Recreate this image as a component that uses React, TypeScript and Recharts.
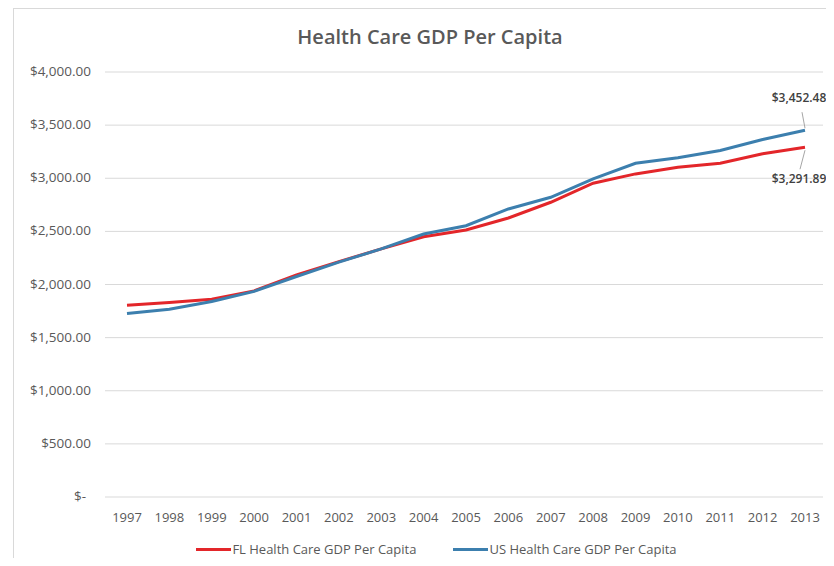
import React from "react";
import {
  LineChart,
  Line,
  XAxis,
  YAxis,
  CartesianGrid,
  Legend,
  LabelList,
} from "recharts";

const years = [
  "1997", "1998", "1999", "2000", "2001", "2002", "2003", "2004", "2005",
  "2006", "2007", "2008", "2009", "2010", "2011", "2012", "2013",
];

const flValues = [
  1805, 1830, 1862, 1940, 2090, 2215, 2335, 2450, 2513, 2626, 2774, 2953,
  3041, 3104, 3141, 3230, 3291.89,
];

const usValues = [
  1726, 1767, 1840, 1935, 2075, 2210, 2335, 2475, 2553, 2711, 2821, 2994,
  3141, 3192, 3261, 3365, 3452.48,
];

const yTicks = [0, 500, 1000, 1500, 2000, 2500, 3000, 3500, 4000];

const FL_COLOR = "#e3262a";
const US_COLOR = "#3c7fae";
const TEXT = "#595959";
const FONT = "'Open Sans', Lato, sans-serif";

const data = years.map((y, i) => ({ year: y, fl: flValues[i], us: usValues[i] }));

const money = (v: number) =>
  "$" + v.toLocaleString("en-US", { minimumFractionDigits: 2, maximumFractionDigits: 2 });

function YTick(props: any) {
  const { x, y, payload } = props;
  const v = payload.value as number;
  return (
    <text
      x={v === 0 ? x - 5 : x}
      y={y}
      dy={4}
      textAnchor="end"
      fill={TEXT}
      fontSize={13.5}
      fontFamily={FONT}
    >
      {v === 0 ? "$-" : money(v)}
    </text>
  );
}

// gridlines stop short of the plot edge, the extra room is for the end labels
function GridLine(props: any) {
  const { x1, x2, y1, y2 } = props;
  return <line x1={x1} x2={x2 - 11} y1={y1} y2={y2} stroke="#d9d9d9" strokeWidth={1} />;
}

function endLabel(above: boolean) {
  return (props: any) => {
    const { x, y, index, value } = props;
    if (index !== years.length - 1) return null;
    const ty = above ? y - 32 : y + 32;
    return (
      <g>
        <line
          x1={x}
          y1={above ? y - 2 : y + 3}
          x2={above ? x - 3 : x - 5}
          y2={above ? y - 18 : y + 22}
          stroke="#a6a6a6"
          strokeWidth={1}
        />
        <text
          x={x - 6}
          y={ty}
          dy={4}
          textAnchor="middle"
          fill="#404040"
          fontSize={12}
          fontWeight={600}
          fontFamily={FONT}
        >
          {money(value)}
        </text>
      </g>
    );
  };
}

function LegendContent() {
  const items = [
    { label: "FL Health Care GDP Per Capita", color: FL_COLOR },
    { label: "US Health Care GDP Per Capita", color: US_COLOR },
  ];
  return (
    <div
      style={{
        display: "flex",
        justifyContent: "center",
        gap: 37,
        fontFamily: FONT,
        fontSize: 13,
        color: TEXT,
        marginLeft: 31,
        marginTop: 11,
      }}
    >
      {items.map((it) => (
        <div key={it.label} style={{ display: "flex", alignItems: "center" }}>
          <span
            style={{
              display: "inline-block",
              width: 35,
              height: 3,
              background: it.color,
              marginRight: 1,
            }}
          />
          {it.label}
        </div>
      ))}
    </div>
  );
}

export default function App() {
  return (
    <div
      style={{
        position: "relative",
        margin: -8,
        width: 834,
        height: 566,
        overflow: "hidden",
        background: "#fff",
      }}
    >
      <div
        style={{
          position: "absolute",
          left: 13,
          top: 8,
          width: 900,
          height: 600,
          borderTop: "1px solid #d9d9d9",
          borderLeft: "1px solid #d9d9d9",
        }}
      />
      <div style={{ position: "absolute", left: 8, top: 8, width: 826, height: 558 }}>
        <div
          style={{
            position: "absolute",
            top: 15,
            left: 0,
            width: 844,
            textAlign: "center",
            fontFamily: FONT,
            fontWeight: 600,
            fontSize: 20,
            color: TEXT,
          }}
        >
          Health Care GDP Per Capita
        </div>
        <LineChart
          width={826}
          height={558}
          data={data}
          margin={{ top: 64, right: 0, bottom: 0, left: 0 }}
          style={{ position: "absolute", top: 0, left: 0 }}
        >
          <CartesianGrid vertical={false} horizontal={GridLine} />
          <XAxis
            dataKey="year"
            axisLine={false}
            tickLine={false}
            height={32}
            padding={{ left: 22, right: 29 }}
            tick={{ fill: TEXT, fontSize: 13, fontFamily: FONT }}
            tickMargin={10}
            interval={0}
          />
          <YAxis
            domain={[0, 4000]}
            ticks={yTicks}
            width={97}
            axisLine={false}
            tickLine={false}
            tick={<YTick />}
            tickMargin={8}
          />
          <Legend verticalAlign="bottom" height={37} content={<LegendContent />} />
          <Line
            type="linear"
            dataKey="fl"
            stroke={FL_COLOR}
            strokeWidth={3}
            dot={false}
            isAnimationActive={false}
          >
            <LabelList dataKey="fl" content={endLabel(false)} />
          </Line>
          <Line
            type="linear"
            dataKey="us"
            stroke={US_COLOR}
            strokeWidth={3}
            dot={false}
            isAnimationActive={false}
          >
            <LabelList dataKey="us" content={endLabel(true)} />
          </Line>
        </LineChart>
      </div>
    </div>
  );
}
